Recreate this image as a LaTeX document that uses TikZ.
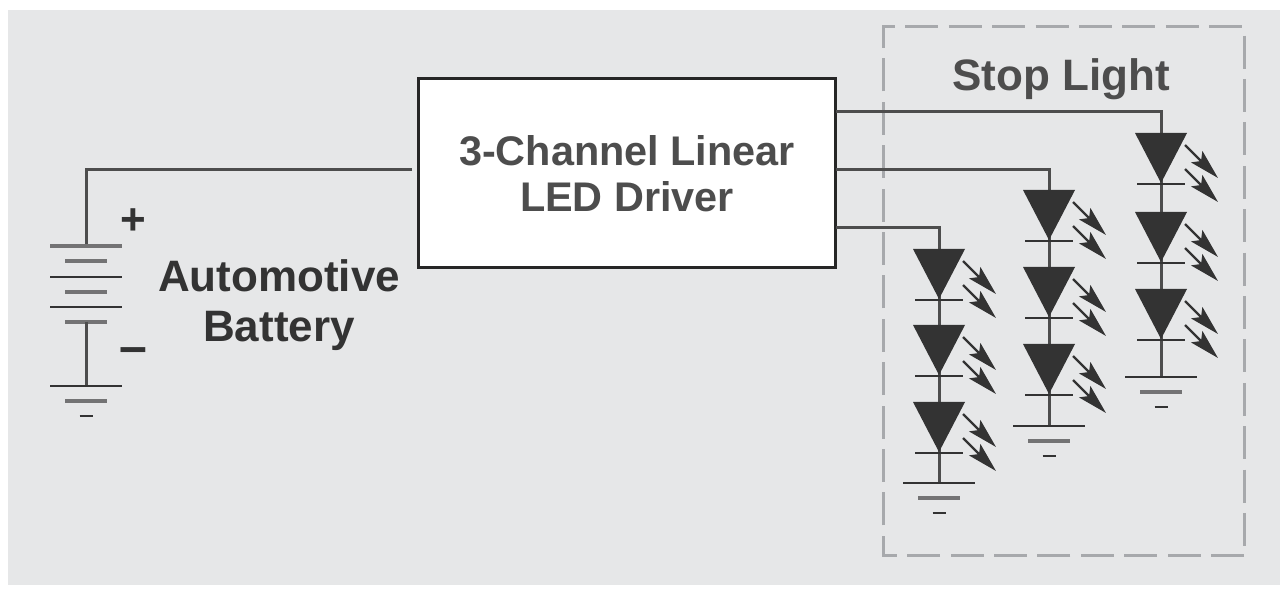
\documentclass[tikz,border=0pt]{standalone}
\usepackage{fontspec}
\setmainfont{Liberation Sans}
\usetikzlibrary{arrows.meta}
\definecolor{panel}{HTML}{E6E7E8}
\definecolor{ink}{HTML}{333333}
\definecolor{wire}{HTML}{4D4D4D}
\definecolor{dashc}{HTML}{A7A9AC}
\tikzset{
  wireline/.style={draw=wire,line width=1.5pt},
  plate/.style={draw=ink,line width=1.4pt},
  plateb/.style={draw=wire!75!panel,line width=1.7pt},
  emit/.style={draw=ink,line width=1.2pt,-{Stealth[length=15pt,width=8pt,inset=3pt]}},
  lbl/.style={font=\bfseries\fontsize{20.7}{23}\selectfont,text=wire,inner sep=0pt,align=center},
  lblb/.style={font=\bfseries\fontsize{22}{25}\selectfont,text=ink,inner sep=0pt,align=center},
  led/.pic={
    \fill[ink] (-26,0) -- (26,0) -- (0,50) -- cycle;
    \draw[plate] (-24,51) -- (24,51);
    \draw[emit] (24,12) -- (57,45);
    \draw[emit] (24,36) -- (57,69);
  },
  gnd/.pic={
    \draw[plate] (-36,0) -- (36,0);
    \draw[plateb] (-21,15) -- (21,15);
    \draw[plate] (-6.5,30) -- (6.5,30);
  }
}
\begin{document}
\begin{tikzpicture}[x=0.5pt,y=-0.5pt]
\useasboundingbox (0,0) rectangle (1280,598);
\fill[panel] (8,10) rectangle (1280,585);
\draw[dashc,line width=1.5pt,dash pattern=on 16.5pt off 5.2pt] (1244,555) -- (883,555) -- (883,27) -- (1244,27) -- cycle;
\node[lblb,text=wire] (stop) at (1061,79) {Stop Light};
\node[draw=black!85,fill=white,line width=1.3pt,minimum width=208.5pt,minimum height=94.5pt,inner sep=0pt,anchor=north west] (driver) at (417,77) {};
\node[lbl] (drvtext) at (627,174) {3-Channel Linear\\LED Driver};
\node[lblb] (auto) at (279,305) {Automotive\\Battery};
\node[font=\bfseries\fontsize{22}{25}\selectfont,text=ink,inner sep=0pt] (plus) at (133,222) {+};
\node[font=\bfseries\fontsize{25}{25}\selectfont,text=ink,inner sep=0pt] (minus) at (133,356) {–};
% battery
\coordinate (drvin) at (412,170);
\coordinate (bat) at (86,246);
\draw[wireline] (drvin) -| (bat);
\draw[plateb] (50,246) -- (122,246);
\draw[plateb] (65,261) -- (107,261);
\draw[plate] (50,277) -- (122,277);
\draw[plateb] (65,292) -- (107,292);
\draw[plate] (50,307) -- (122,307);
\draw[plateb] (65,322) -- (107,322);
\coordinate (batb) at (86,322);
\coordinate (batg) at (86,386);
\draw[wireline] (batb) -- (batg);
\pic at (batg) {gnd};
% channel 3
\coordinate (c3o) at (836,112);
\coordinate (a3) at (1161,133);
\coordinate (b3) at (1161,212);
\coordinate (d3) at (1161,289);
\coordinate (g3) at (1161,377);
\draw[wireline] (c3o) -| (a3);
\draw[wireline] (a3) -- (g3);
\pic at (a3) {led}; \pic at (b3) {led}; \pic at (d3) {led};
\pic at (g3) {gnd};
% channel 2
\coordinate (c2o) at (836,170);
\coordinate (a2) at (1049,190);
\coordinate (b2) at (1049,267);
\coordinate (d2) at (1049,344);
\coordinate (g2) at (1049,426);
\draw[wireline] (c2o) -| (a2);
\draw[wireline] (a2) -- (g2);
\pic at (a2) {led}; \pic at (b2) {led}; \pic at (d2) {led};
\pic at (g2) {gnd};
% channel 1
\coordinate (c1o) at (836,228);
\coordinate (a1) at (939,249);
\coordinate (b1) at (939,325);
\coordinate (d1) at (939,402);
\coordinate (g1) at (939,483);
\draw[wireline] (c1o) -| (a1);
\draw[wireline] (a1) -- (g1);
\pic at (a1) {led}; \pic at (b1) {led}; \pic at (d1) {led};
\pic at (g1) {gnd};
\end{tikzpicture}
\end{document}
